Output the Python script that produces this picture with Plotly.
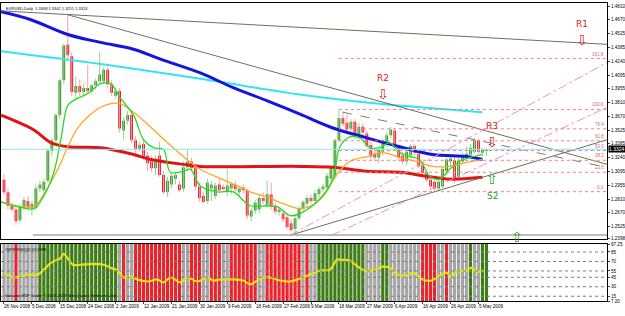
import plotly.graph_objects as go

# ---------------- data ----------------
open_ = [1.3010,1.2880,1.2740,1.2700,1.2590,1.2720,1.2790,1.2720,1.2720,1.2920,
         1.2900,1.3000,1.3310,1.3420,1.3680,1.4040,1.4410,1.4290,1.3910,1.3980,
         1.3920,1.3960,1.3930,1.3990,1.4030,1.4030,1.4150,1.4000,1.3880,1.3930,
         1.3520,1.3620,1.3680,1.3420,1.3330,1.3380,1.3260,1.3200,1.3130,1.3260,
         1.3060,1.2880,1.2960,1.3020,1.2960,1.2920,1.3140,1.3200,1.3130,1.2940,
         1.2840,1.2790,1.2920,1.2840,1.2960,1.2930,1.2890,1.2920,1.2960,1.2880,
         1.2930,1.2900,1.2630,1.2690,1.2700,1.2820,1.2750,1.2860,1.2740,1.2680,
         1.2660,1.2620,1.2560,1.2500,1.2610,1.2710,1.2760,1.2820,1.2790,1.2860,
         1.2910,1.2930,1.3020,1.3040,1.3420,1.3650,1.3600,1.3540,1.3610,1.3460,
         1.3560,1.3490,1.3370,1.3280,1.3240,1.3300,1.3400,1.3470,1.3520,1.3340,
         1.3260,1.3200,1.3260,1.3360,1.3280,1.3160,1.3080,1.3010,1.2990,1.2920,
         1.2940,1.3100,1.3200,1.3210,1.3040,1.3200,1.3250,1.3270,1.3300,1.3420,
         1.3290,1.3308]
high = [1.3070,1.2920,1.2770,1.2740,1.2760,1.2830,1.2840,1.2790,1.2960,1.3000,
        1.3020,1.3340,1.3440,1.3700,1.4060,1.4420,1.4719,1.4330,1.4080,1.4050,
        1.4010,1.4200,1.4000,1.4060,1.4340,1.4170,1.4180,1.4040,1.3960,1.3960,
        1.3660,1.3720,1.3720,1.3460,1.3400,1.3420,1.3300,1.3260,1.3260,1.3400,
        1.3100,1.3040,1.3080,1.3090,1.3000,1.3200,1.3320,1.3240,1.3150,1.2980,
        1.2880,1.3020,1.3000,1.2980,1.3020,1.2960,1.3120,1.2980,1.3000,1.2940,
        1.2960,1.2920,1.2720,1.2800,1.2860,1.2880,1.3000,1.2980,1.2770,1.2720,
        1.2700,1.2660,1.2600,1.2650,1.2740,1.2800,1.2850,1.2860,1.2900,1.2940,
        1.2970,1.3080,1.3160,1.3440,1.3730,1.3720,1.3680,1.3640,1.3640,1.3600,
        1.3590,1.3520,1.3400,1.3320,1.3340,1.3440,1.3500,1.3560,1.3540,1.3370,
        1.3300,1.3330,1.3380,1.3380,1.3300,1.3190,1.3110,1.3040,1.3020,1.3010,
        1.3140,1.3240,1.3260,1.3240,1.3240,1.3290,1.3350,1.3380,1.3440,1.3430,
        1.3340,1.3342]
low = [1.2850,1.2700,1.2680,1.2540,1.2560,1.2690,1.2690,1.2640,1.2700,1.2880,
       1.2860,1.2980,1.3250,1.3390,1.3640,1.4000,1.4250,1.3880,1.3860,1.3880,
       1.3880,1.3900,1.3900,1.3950,1.4000,1.4000,1.3960,1.3880,1.3850,1.3500,
       1.3420,1.3580,1.3390,1.3280,1.3300,1.3220,1.3100,1.3090,1.3060,1.3040,
       1.2860,1.2830,1.2920,1.2960,1.2880,1.2880,1.3100,1.3100,1.2900,1.2780,
       1.2760,1.2760,1.2790,1.2810,1.2880,1.2900,1.2840,1.2860,1.2880,1.2840,
       1.2860,1.2600,1.2580,1.2650,1.2660,1.2760,1.2720,1.2700,1.2650,1.2640,
       1.2570,1.2500,1.2460,1.2460,1.2590,1.2680,1.2720,1.2760,1.2770,1.2820,
       1.2880,1.2900,1.2990,1.3010,1.3400,1.3560,1.3500,1.3500,1.3430,1.3430,
       1.3470,1.3340,1.3220,1.3200,1.3180,1.3260,1.3350,1.3440,1.3320,1.3200,
       1.3170,1.3160,1.3230,1.3260,1.3130,1.3060,1.2990,1.2920,1.2890,1.2890,
       1.2920,1.3060,1.3150,1.2980,1.3010,1.3170,1.3230,1.3240,1.3280,1.3280,
       1.3250,1.3251]
close = [1.2880,1.2740,1.2700,1.2580,1.2730,1.2800,1.2730,1.2760,1.2920,1.2960,
         1.2990,1.3310,1.3420,1.3680,1.4040,1.4400,1.4300,1.3920,1.3980,1.3920,
         1.3960,1.3930,1.3990,1.4030,1.4100,1.4150,1.4000,1.3910,1.3930,1.3540,
         1.3620,1.3680,1.3420,1.3330,1.3370,1.3250,1.3180,1.3130,1.3220,1.3060,
         1.2880,1.3000,1.3050,1.3060,1.2900,1.3140,1.3200,1.3130,1.2940,1.2820,
         1.2780,1.2980,1.2960,1.2950,1.2900,1.2920,1.2950,1.2970,1.2910,1.2920,
         1.2900,1.2640,1.2690,1.2770,1.2820,1.2790,1.2860,1.2730,1.2680,1.2700,
         1.2600,1.2520,1.2490,1.2610,1.2710,1.2780,1.2820,1.2790,1.2870,1.2910,
         1.2940,1.3050,1.3140,1.3420,1.3650,1.3590,1.3530,1.3610,1.3460,1.3560,
         1.3500,1.3360,1.3250,1.3240,1.3320,1.3420,1.3470,1.3530,1.3340,1.3240,
         1.3200,1.3300,1.3360,1.3290,1.3150,1.3080,1.3010,1.2940,1.2920,1.2990,
         1.3120,1.3220,1.3230,1.3030,1.3210,1.3260,1.3280,1.3340,1.3420,1.3300,
         1.3320,1.3324]

# moving averages (bar index, price)
blue_bar = [-0.75, 6.75, 16, 24.25, 32.5, 39.25, 49.25, 57.5, 65.75, 74.25, 82.5, 91, 99.25, 107.5, 116, 120]
blue_val = [1.4750, 1.4668, 1.4515, 1.4433, 1.4362, 1.4260, 1.4117, 1.3964, 1.3832, 1.3689, 1.3546, 1.3444, 1.3352, 1.3271, 1.3250, 1.3220]
cyan_bar = [-0.75, 24.25, 49.25, 74.25, 91, 107.5, 120]
cyan_val = [1.4342, 1.4209, 1.4056, 1.3893, 1.3811, 1.3750, 1.3709]
red_bar = [-0.75, 7.5, 11.75, 16, 24.25, 32.5, 36.75, 45, 49.25, 74.25, 82.5, 91, 99.25, 106, 111.75, 120]
red_val = [1.3679, 1.3526, 1.3393, 1.3352, 1.3342, 1.3271, 1.3220, 1.3169, 1.3148, 1.3148, 1.3138, 1.3097, 1.3087, 1.3046, 1.3016, 1.3036]
orange_bar = [-0.75, 4.25, 7.5, 9.25, 13.5, 16, 18.5, 21, 24.25, 28.75, 32.5, 36.75, 41, 45, 49.25, 53.5, 57.5, 61.75,
              66, 70, 74.25, 78, 80.5, 83.5, 86.75, 91, 95, 99.25, 103.5, 107.5, 111.75, 116, 120]
orange_val = [1.2781, 1.2730, 1.2730, 1.2812, 1.3118, 1.3352, 1.3546, 1.3659, 1.3761, 1.3801, 1.3709, 1.3556, 1.3393, 1.3250,
              1.3118, 1.3036, 1.2965, 1.2883, 1.2832, 1.2761, 1.2710, 1.2761, 1.2863, 1.3067, 1.3199, 1.3250, 1.3291, 1.3240,
              1.3199, 1.3148, 1.3148, 1.3189, 1.3220]
green_bar = [-0.75, 3.5, 7.5, 10, 12.5, 14.25, 16, 17.5, 21, 24.25, 26.75, 29.25, 32.5, 35, 37.5, 40, 41.75, 45, 46.75,
             49.25, 53.5, 57.5, 61.75, 66, 68.5, 71.75, 74.25, 79.25, 82.5, 84.25, 86.75, 89.25, 91.75, 94.25, 96.75,
             99.25, 101.75, 104.25, 106.75, 109.25, 111.75, 114.25, 116.75, 120]
green_val = [1.2781, 1.2730, 1.2710, 1.2842, 1.3087, 1.3424, 1.3781, 1.3832, 1.3903, 1.4005, 1.4005, 1.3852, 1.3679,
             1.3424, 1.3342, 1.3322, 1.3087, 1.3097, 1.3118, 1.2944, 1.2883, 1.2883, 1.2740, 1.2740, 1.2730, 1.2638,
             1.2659, 1.2812, 1.3016, 1.3352, 1.3454, 1.3444, 1.3342, 1.3342, 1.3393, 1.3291, 1.3250, 1.3220, 1.3046,
             1.3016, 1.3118, 1.3199, 1.3240, 1.3271]

# trend lines (start bar, start price, end bar, end price)
trend_solid = [(-0.75, 1.4760, 151.25, 1.4413), (16, 1.4719, 151.25, 1.3169), (71.75, 1.2434, 151.25, 1.3424)]
trend_dashed = [(85, 1.3709, 151.25, 1.3138)]
fan_lines = [(71.75, 1.2434, 151.25, 1.4224), (82.25, 1.2434, 151.25, 1.3760)]
support_line = (7.25, 1.2436, 151.25, 1.2436)

fib_labels = ["161.8", "100.0", "76.4", "61.8", "50.0", "38.2", "23.6", "0.0"]
fib_prices = [1.4265, 1.3738, 1.3537, 1.3413, 1.3312, 1.3211, 1.3087, 1.2886]
fib_start = 84

signal_names = ["R1", "R2", "R3", "S2"]
signal_bar = [145, 95, 122.5, 122.5]
signal_text_price = [1.4620, 1.4069, 1.3569, 1.2845]
signal_arrow_price = [1.4454, 1.3903, 1.3403, 1.3013]
signal_dir = ["down", "down", "down", "up"]
extra_up_bar, extra_up_price = 128.75, 1.2420

last_price = 1.3324

price_ticks = [1.4810, 1.4670, 1.4525, 1.4385, 1.4240, 1.4095, 1.3955, 1.3810, 1.3670, 1.3525,
               1.3385, 1.3240, 1.3095, 1.2955, 1.2810, 1.2670, 1.2525, 1.2398]

date_labels = ["26 Nov 2008", "5 Dec 2008", "15 Dec 2008", "24 Dec 2008", "2 Jan 2009", "12 Jan 2009",
               "21 Jan 2009", "30 Jan 2009", "9 Feb 2009", "18 Feb 2009", "27 Feb 2009", "9 Mar 2009",
               "18 Mar 2009", "27 Mar 2009", "6 Apr 2009", "16 Apr 2009", "26 Apr 2009", "5 May 2009"]
date_bars = [0, 7, 14, 21, 28, 35, 42, 49, 56, 63, 70, 77, 84, 91, 98, 105, 112, 119]

# indicator panel
state = list("NNNRNNNNN" + "G" * 20 + "NRNN" + "R" * 12 + "NNRRRNNRRRNN" + "R" * 7 + "NN" + "R" * 9 +
             "NRNN" + "G" * 12 + "NNNNGG" + "N" * 8 + "RRRRNNR" + "NNNNN" + "GNNGG")
rsi_bar = [0, 2.5, 6, 8.5, 10, 11.75, 14.25, 15, 16.25, 17.25, 19.25, 22.5, 25, 26.75, 28.5, 30, 31.75, 33.5, 36,
           38.5, 40, 41.75, 44.25, 46, 48.5, 51, 52.5, 54.25, 57.5, 60, 61.75, 63.5, 65, 66.75, 69.25, 71.75, 74.25,
           76.75, 79.25, 81.75, 83.5, 84.75, 86.75, 88.5, 90.5, 92.5, 95, 96.75, 98.5, 101, 102.5, 105, 107.25,
           109.25, 111, 112.25, 113.5, 116, 117.25, 118.5, 120.25]
rsi_val = [52.3, 44.6, 49.2, 49.2, 57.0, 67.9, 75.7, 81.9, 72.6, 64.8, 64.8, 66.3, 64.8, 60.1, 55.5, 44.6, 46.1, 41.5,
           38.3, 41.5, 36.8, 44.6, 36.8, 44.6, 38.3, 44.6, 39.9, 41.5, 41.5, 39.9, 33.7, 39.9, 44.6, 44.6, 39.9, 38.3,
           43.0, 49.2, 55.5, 57.0, 72.6, 72.6, 71.0, 63.2, 55.5, 55.5, 61.7, 60.1, 49.2, 47.7, 52.3, 41.5, 39.9, 47.7,
           52.3, 44.6, 53.9, 55.5, 60.1, 53.9, 55.5]
rsi_levels = [85, 70, 55, 45, 30, 15]
rsi_min, rsi_max = 7.2, 97.4

# ---------------- figure ----------------
FONT = "Liberation Sans"
fig = go.Figure()
n = len(close)
idx = list(range(n))
XR = [-0.75, 151.25]

# wicks
for up, col in [(True, "#8ED88E"), (False, "#F4A0A8")]:
    xs, ys = [], []
    for i in idx:
        if (close[i] >= open_[i]) == up:
            xs += [i, i, None]
            ys += [low[i], high[i], None]
    fig.add_trace(go.Scatter(x=xs, y=ys, mode="lines", line=dict(color=col, width=1),
                             hoverinfo="skip", showlegend=False, xaxis="x", yaxis="y"))
# bodies
base = [min(open_[i], close[i]) for i in idx]
hgt = [max(abs(close[i] - open_[i]), 0.0006) for i in idx]
cols = ["#3A8F22" if close[i] >= open_[i] else "#E8141E" for i in idx]
fig.add_trace(go.Bar(x=idx, y=hgt, base=base, marker=dict(color=cols, line=dict(width=0)), width=0.7,
                     showlegend=False, xaxis="x", yaxis="y"))

# moving averages
fig.add_trace(go.Scatter(x=cyan_bar, y=cyan_val, mode="lines", line=dict(color="#33E3F0", width=2, shape="spline"),
                         showlegend=False, xaxis="x", yaxis="y"))
fig.add_trace(go.Scatter(x=blue_bar, y=blue_val, mode="lines", line=dict(color="#1414E0", width=3, shape="spline"),
                         showlegend=False, xaxis="x", yaxis="y"))
fig.add_trace(go.Scatter(x=red_bar, y=red_val, mode="lines", line=dict(color="#E01414", width=3, shape="spline"),
                         showlegend=False, xaxis="x", yaxis="y"))
fig.add_trace(go.Scatter(x=orange_bar, y=orange_val, mode="lines", line=dict(color="#FFA526", width=1.3, shape="spline"),
                         showlegend=False, xaxis="x", yaxis="y"))
fig.add_trace(go.Scatter(x=green_bar, y=green_val, mode="lines", line=dict(color="#22DD22", width=1.3, shape="spline"),
                         showlegend=False, xaxis="x", yaxis="y"))

shapes = []
for (x0, y0, x1, y1) in trend_solid:
    shapes.append(dict(type="line", xref="x", yref="y", x0=x0, y0=y0, x1=x1, y1=y1,
                       line=dict(color="#6E6E5E", width=1)))
for (x0, y0, x1, y1) in trend_dashed:
    shapes.append(dict(type="line", xref="x", yref="y", x0=x0, y0=y0, x1=x1, y1=y1,
                       line=dict(color="#7A7A6A", width=1, dash="dash")))
for (x0, y0, x1, y1) in fan_lines:
    shapes.append(dict(type="line", xref="x", yref="y", x0=x0, y0=y0, x1=x1, y1=y1,
                       line=dict(color="#F08CC8", width=1, dash="dashdot")))
x0, y0, x1, y1 = support_line
shapes.append(dict(type="line", xref="x", yref="y", x0=x0, y0=y0, x1=x1, y1=y1,
                   line=dict(color="#A8A8A8", width=1.5)))
for p in fib_prices:
    shapes.append(dict(type="line", xref="x", yref="y", x0=fib_start, y0=p, x1=XR[1], y1=p,
                       line=dict(color="#F08080", width=1, dash="dot")))
shapes.append(dict(type="line", xref="x", yref="y", x0=XR[0], y0=last_price, x1=XR[1], y1=last_price,
                   line=dict(color="#8CEFF5", width=1)))

# indicator panel
icol = {"G": "#3D7E14", "R": "#EC2228", "N": "#A6A6A6"}
fig.add_trace(go.Bar(x=idx, y=[rsi_max - rsi_min] * n, base=[rsi_min] * n,
                     marker=dict(color=[icol[s] for s in state], line=dict(width=0)), width=0.8,
                     showlegend=False, xaxis="x2", yaxis="y2"))
for lv in rsi_levels:
    shapes.append(dict(type="line", xref="x2", yref="y2", x0=XR[0], y0=lv, x1=XR[1], y1=lv,
                       line=dict(color="#7C7C90", width=1, dash="dot")))
fig.add_trace(go.Scatter(x=rsi_bar, y=rsi_val, mode="lines", line=dict(color="#E2E214", width=2.2, shape="spline"),
                         showlegend=False, xaxis="x2", yaxis="y2"))

ann = []
ann.append(dict(text="EURUSD,Daily  1.3308 1.3342 1.3251 1.3324", xref="paper", yref="paper", x=0.005, y=0.992,
                xanchor="left", yanchor="top", showarrow=False, font=dict(size=4, color="#000000", family=FONT)))
for i, name in enumerate(signal_names):
    col = "#E02020" if signal_dir[i] == "down" else "#22A022"
    ann.append(dict(text=name, x=signal_bar[i], y=signal_text_price[i], xref="x", yref="y", showarrow=False,
                    font=dict(size=9, color=col, family="DejaVu Sans")))
    ann.append(dict(text="⇩" if signal_dir[i] == "down" else "⇧", x=signal_bar[i], y=signal_arrow_price[i],
                    xref="x", yref="y", showarrow=False, font=dict(size=14, color=col, family="DejaVu Sans")))
ann.append(dict(text="⇧", x=extra_up_bar, y=extra_up_price, xref="x", yref="y", showarrow=False,
                font=dict(size=14, color="#22A022", family="DejaVu Sans")))
for lab, p in zip(fib_labels, fib_prices):
    ann.append(dict(text=lab, x=150.9, y=p, xref="x", yref="y", xanchor="right", yanchor="bottom",
                    showarrow=False, font=dict(size=4.5, color="#E06070", family=FONT)))
ann.append(dict(text="1.3324", x=0.9745, y=last_price, xref="paper", yref="y", xanchor="left", showarrow=False,
                bgcolor="#000000", font=dict(size=5, color="#FFFFFF", family=FONT), borderpad=0))
for lab, b in zip(date_labels, date_bars):
    ann.append(dict(text=lab, x=b - 0.4, y=0.005, xref="x2", yref="paper", xanchor="left", yanchor="bottom",
                    showarrow=False, font=dict(size=4.6, color="#000000", family=FONT)))
ann.append(dict(text="#MTF RSI(14) 53.1988", xref="paper", yref="paper", x=0.004, y=0.219, xanchor="left",
                yanchor="top", showarrow=False, font=dict(size=4, color="#000000", family=FONT)))
ann.append(dict(text="Indicator MTF Trader © 2006-2008 MetaQuotes Software Corp.", xref="paper", yref="paper",
                x=0.004, y=0.042, xanchor="left", yanchor="bottom", showarrow=False,
                font=dict(size=4, color="#000000", family=FONT)))

rsi_tick_vals = [rsi_max] + rsi_levels + [rsi_min]
rsi_tick_text = ["97.25"] + [str(v) for v in rsi_levels] + ["7.20"]

fig.update_layout(
    width=625, height=316, margin=dict(l=0, r=0, t=0, b=0),
    paper_bgcolor="#FFFFFF", plot_bgcolor="#FFFFFF", showlegend=False, barmode="overlay",
    shapes=shapes, annotations=ann,
    xaxis=dict(domain=[0, 0.9728], range=XR, anchor="y", showticklabels=False, showgrid=False, zeroline=False,
               showline=True, mirror=True, linecolor="#000000", linewidth=1, fixedrange=True),
    yaxis=dict(domain=[0.2373, 0.9968], range=[1.23934, 1.48414], side="right", anchor="x",
               tickvals=price_ticks, ticktext=[f"{v:.4f}" for v in price_ticks], ticks="outside", ticklen=2,
               tickfont=dict(size=4.6, color="#000000", family=FONT), showgrid=False, zeroline=False,
               showline=True, mirror=True, linecolor="#000000", linewidth=1),
    xaxis2=dict(domain=[0, 0.9728], range=XR, anchor="y2", showticklabels=False, showgrid=False, zeroline=False,
                showline=True, mirror=True, linecolor="#000000", linewidth=1, tickvals=date_bars, ticks="outside",
                ticklen=2),
    yaxis2=dict(domain=[0.038, 0.2215], range=[rsi_min, rsi_max], side="right", anchor="x2",
                tickvals=rsi_tick_vals, ticktext=rsi_tick_text, ticks="outside", ticklen=2,
                tickfont=dict(size=4.6, color="#000000", family=FONT), showgrid=False, zeroline=False,
                showline=True, mirror=True, linecolor="#000000", linewidth=1),
)

fig.write_html("out.html")
